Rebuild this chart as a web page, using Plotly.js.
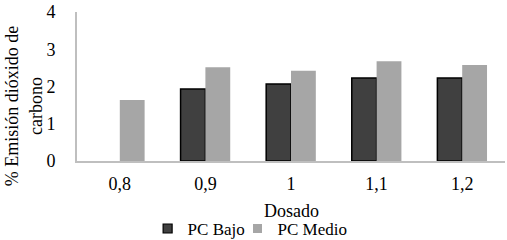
<!DOCTYPE html>
<html>
<head>
<meta charset="utf-8">
<script src="https://cdn.plot.ly/plotly-3.0.1.min.js"></script>
<style>html,body{margin:0;padding:0;background:#fff;}#chart{width:507px;height:240px;}</style>
</head>
<body>
<div id="chart"></div>
<script>
var categories = ['0,8', '0,9', '1', '1,1', '1,2'];
var pcBajo = [null, 1.93, 2.07, 2.23, 2.23];
var pcMedio = [1.64, 2.52, 2.42, 2.68, 2.58];
var yTicks = [0, 1, 2, 3, 4];

var FAM = 'Liberation Serif, Times New Roman, serif';
function f(s) { return {family: FAM, size: s || 18, color: '#000'}; }

var data = [
  {type: 'bar', name: 'PC Bajo', x: categories, y: pcBajo, showlegend: false,
   marker: {color: '#404040', line: {color: '#000', width: 1.5}}},
  {type: 'bar', name: 'PC Medio', x: categories, y: pcMedio, showlegend: false,
   marker: {color: '#a6a6a6', line: {color: '#a6a6a6', width: 0}}},
  {type: 'scatter', mode: 'markers', name: 'PC Bajo', x: [categories[0]], y: [null], legend: 'legend',
   marker: {symbol: 'square', size: 9, color: '#404040', line: {color: '#000', width: 1.2}}},
  {type: 'scatter', mode: 'markers', name: 'PC Medio', x: [categories[0]], y: [null], legend: 'legend2',
   marker: {symbol: 'square', size: 9, color: '#a6a6a6', line: {width: 0}}}
];

function leg(x) {
  return {orientation: 'h', x: x, xanchor: 'left', yref: 'container', y: 0.046, yanchor: 'middle',
          font: f(17), itemwidth: 30, bgcolor: 'rgba(0,0,0,0)'};
}

var layout = {
  width: 507, height: 240,
  margin: {l: 77, r: 2, t: 12, b: 79, autoexpand: false},
  paper_bgcolor: '#fff', plot_bgcolor: '#fff',
  font: f(18),
  barmode: 'group', bargap: 0.42, bargroupgap: 0,
  showlegend: true,
  legend: leg(0.165),
  legend2: leg(0.375),
  xaxis: {type: 'category', showline: true, linecolor: '#bfbfbf', linewidth: 2,
          showgrid: false, zeroline: false, ticks: 'outside', ticklen: 5,
          tickcolor: 'rgba(0,0,0,0)', tickfont: f(18), automargin: false},
  yaxis: {range: [0, 4], tickvals: yTicks, ticktext: yTicks.map(String),
          showline: true, linecolor: '#bfbfbf', linewidth: 2, automargin: false,
          showgrid: false, zeroline: false, ticks: 'outside', ticklen: 16,
          tickcolor: 'rgba(0,0,0,0)', tickfont: f(18)},
  annotations: [
    {text: '% Emisión dióxido de<br>carbono', xref: 'paper', yref: 'paper',
     x: -0.123, y: 0.37, xanchor: 'center', yanchor: 'middle',
     textangle: -90, showarrow: false, font: f(18)},
    {text: 'Dosado', xref: 'paper', yref: 'paper',
     x: 0.5, y: -0.336, xanchor: 'center', yanchor: 'middle',
     showarrow: false, font: f(18)}
  ]
};

Plotly.newPlot('chart', data, layout, {displayModeBar: false, staticPlot: true});
</script>
</body>
</html>
